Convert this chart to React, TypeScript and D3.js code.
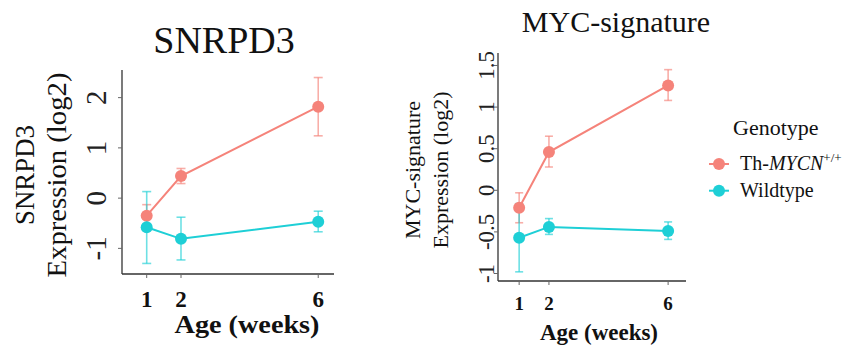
import React from 'react';
import * as d3 from 'd3';

// weeks on the x axis
const weeks = [1, 2, 6];
const xTicks = [1, 2, 6];

// SNRPD3 panel
const snrpd3Tg = [-0.35, 0.44, 1.82];
const snrpd3TgLo = [-0.57, 0.29, 1.24];
const snrpd3TgHi = [-0.13, 0.59, 2.4];
const snrpd3Wt = [-0.58, -0.81, -0.47];
const snrpd3WtLo = [-1.3, -1.23, -0.67];
const snrpd3WtHi = [0.13, -0.38, -0.26];
const snrpd3Ticks = [-1, 0, 1, 2];

// MYC-signature panel
const mycTg = [-0.21, 0.46, 1.26];
const mycTgLo = [-0.39, 0.28, 1.08];
const mycTgHi = [-0.03, 0.65, 1.45];
const mycWt = [-0.57, -0.44, -0.49];
const mycWtLo = [-0.98, -0.53, -0.59];
const mycWtHi = [-0.16, -0.34, -0.38];
const mycTicks = [-1, -0.5, 0, 0.5, 1, 1.5];
const mycTickLabels = ['-1', '-0.5', '0', '0.5', '1', '1.5'];

const RED = '#F5837A';
const CYAN = '#1ECFD6';
const FONT = '"Liberation Serif", "Times New Roman", serif';

type Series = { mean: number[]; lo: number[]; hi: number[]; color: string };

type PanelProps = {
  title: string;
  titleX: number;
  titleY: number;
  titleSize: number;
  ylab: string[];
  ylabX: number[];
  ylabLen?: number[];
  ylabSize: number;
  xDomain: [number, number];
  xRange: [number, number];
  yDomain: [number, number];
  yRange: [number, number];
  yTicks: number[];
  yTickLabels: string[];
  yTickX: number;
  yTickSize: number;
  xTickY: number;
  xTickSize: number;
  xlabX: number;
  xlabY: number;
  xlabSize: number;
  xlabLen: number;
  series: Series[];
  cap: number;
};

const Panel = (p: PanelProps) => {
  const x = d3.scaleLinear().domain(p.xDomain).range(p.xRange);
  const y = d3.scaleLinear().domain(p.yDomain).range(p.yRange);
  const line = d3.line<number>().x((_, i) => x(weeks[i])).y(d => y(d));
  const [x0, x1] = p.xRange;
  const [yb, yt] = p.yRange;
  const yMid = (yb + yt) / 2 + 3;

  return (
    <g>
      <text x={p.titleX} y={p.titleY} fontSize={p.titleSize} textAnchor="middle" fill="#111">{p.title}</text>
      {p.ylab.map((t, i) => (
        <text key={t} transform={`translate(${p.ylabX[i]},${yMid}) rotate(-90)`} fontSize={p.ylabSize}
          textAnchor="middle" fill="#111"
          textLength={p.ylabLen ? p.ylabLen[i] : undefined}
          lengthAdjust={p.ylabLen ? 'spacingAndGlyphs' : undefined}>{t}</text>
      ))}
      {/* axes */}
      <line x1={x0} x2={x0} y1={yt} y2={yb} stroke="#333" strokeWidth={1.3} />
      <line x1={x0} x2={x1} y1={yb} y2={yb} stroke="#333" strokeWidth={1.3} />
      {p.yTicks.map((t, i) => (
        <g key={t}>
          <line x1={x0 - 4} x2={x0} y1={y(t)} y2={y(t)} stroke="#666" strokeWidth={1} />
          <text transform={`translate(${p.yTickX},${y(t)}) rotate(-90)`} fontSize={p.yTickSize}
            textAnchor="middle" fill="#222">{p.yTickLabels[i]}</text>
        </g>
      ))}
      {xTicks.map(t => (
        <g key={t}>
          <line x1={x(t)} x2={x(t)} y1={yb} y2={yb + 4} stroke="#666" strokeWidth={1} />
          <text x={x(t)} y={p.xTickY} fontSize={p.xTickSize} fontWeight="bold" textAnchor="middle" fill="#111">{t}</text>
        </g>
      ))}
      <text x={p.xlabX} y={p.xlabY} fontSize={p.xlabSize} fontWeight="bold" textAnchor="middle" fill="#111"
        textLength={p.xlabLen} lengthAdjust="spacingAndGlyphs">Age (weeks)</text>
      {/* error bars */}
      {p.series.map((s, si) => (
        <g key={'e' + si} stroke={s.color} strokeOpacity={0.65} strokeWidth={1.6}>
          {weeks.map((w, i) => (
            <g key={w}>
              <line x1={x(w)} x2={x(w)} y1={y(s.lo[i])} y2={y(s.hi[i])} />
              <line x1={x(w) - p.cap} x2={x(w) + p.cap} y1={y(s.lo[i])} y2={y(s.lo[i])} />
              <line x1={x(w) - p.cap} x2={x(w) + p.cap} y1={y(s.hi[i])} y2={y(s.hi[i])} />
            </g>
          ))}
        </g>
      ))}
      {p.series.map((s, si) => (
        <path key={'l' + si} d={line(s.mean) || ''} fill="none" stroke={s.color} strokeWidth={2} />
      ))}
      {p.series.map((s, si) => (
        <g key={'p' + si} fill={s.color}>
          {weeks.map((w, i) => (
            <circle key={w} cx={x(w)} cy={y(s.mean[i])} r={6} />
          ))}
        </g>
      ))}
    </g>
  );
};

export default function App() {
  return (
    <svg width={842} height={348} style={{ position: 'absolute', left: 0, top: 0, background: '#fff' }}
      fontFamily={FONT}>
      <Panel
        title="SNRPD3" titleX={224} titleY={53} titleSize={38}
        ylab={['SNRPD3', 'Expression (log2)']} ylabX={[34, 66]} ylabLen={[100, 205]} ylabSize={27}
        xDomain={[0.28, 6.46]} xRange={[122, 334]}
        yDomain={[-1.51, 2.55]} yRange={[274, 70]}
        yTicks={snrpd3Ticks} yTickLabels={snrpd3Ticks.map(String)} yTickX={106} yTickSize={29}
        xTickY={307} xTickSize={23}
        xlabX={247} xlabY={333} xlabSize={26} xlabLen={145}
        cap={4.5}
        series={[
          { mean: snrpd3Tg, lo: snrpd3TgLo, hi: snrpd3TgHi, color: RED },
          { mean: snrpd3Wt, lo: snrpd3WtLo, hi: snrpd3WtHi, color: CYAN },
        ]}
      />
      <Panel
        title="MYC-signature" titleX={616} titleY={32} titleSize={30}
        ylab={['MYC-signature', 'Expression (log2)']} ylabX={[420, 448]} ylabSize={22}
        xDomain={[0.29, 6.6]} xRange={[498, 686]}
        yDomain={[-1.09, 1.65]} yRange={[281, 53]}
        yTicks={mycTicks} yTickLabels={mycTickLabels} yTickX={494} yTickSize={23}
        xTickY={310} xTickSize={19}
        xlabX={599} xlabY={340} xlabSize={23} xlabLen={118}
        cap={4}
        series={[
          { mean: mycTg, lo: mycTgLo, hi: mycTgHi, color: RED },
          { mean: mycWt, lo: mycWtLo, hi: mycWtHi, color: CYAN },
        ]}
      />
      {/* legend */}
      <g>
        <text x={733} y={135} fontSize={22} fill="#111">Genotype</text>
        <line x1={709} x2={729} y1={164} y2={164} stroke={RED} strokeWidth={2} />
        <circle cx={719} cy={164} r={6} fill={RED} />
        <text x={740} y={170} fontSize={20} fill="#111">
          Th-<tspan fontStyle="italic">MYCN</tspan><tspan fontSize={13} dy={-8}>+/+</tspan>
        </text>
        <line x1={709} x2={729} y1={190.7} y2={190.7} stroke={CYAN} strokeWidth={2} />
        <circle cx={719} cy={190.7} r={6} fill={CYAN} />
        <text x={740} y={197} fontSize={20} fill="#111">Wildtype</text>
      </g>
    </svg>
  );
}
